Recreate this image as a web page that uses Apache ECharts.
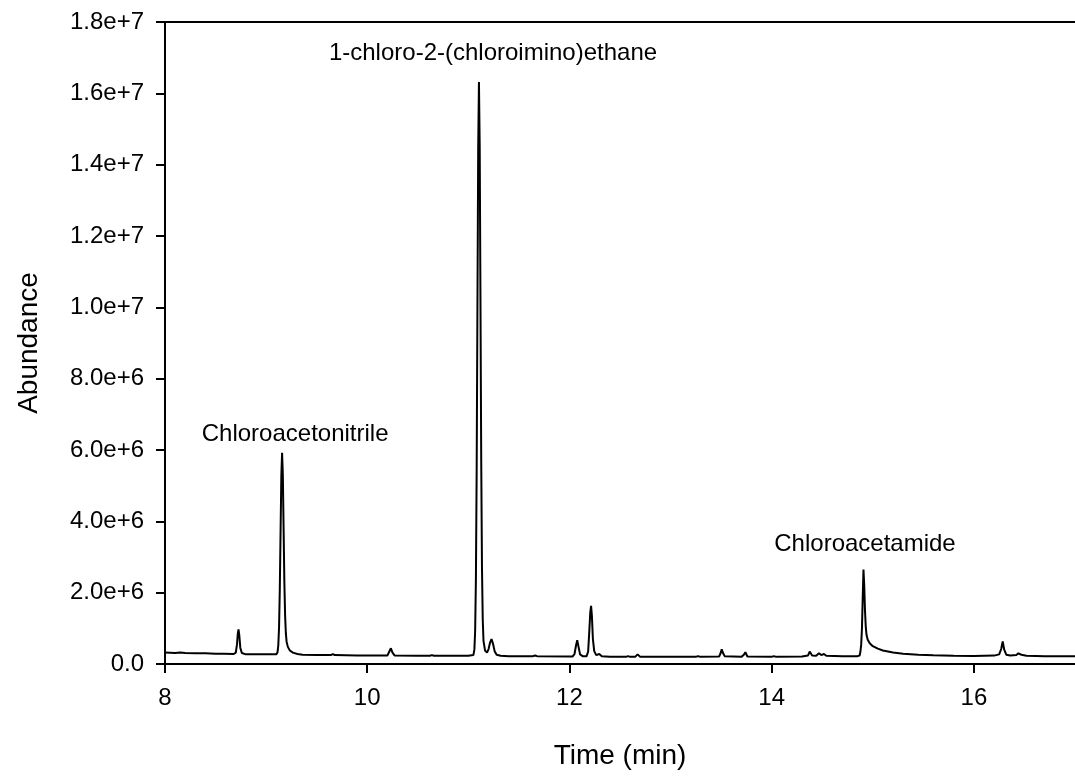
<!DOCTYPE html>
<html>
<head>
<meta charset="utf-8">
<title>Chromatogram</title>
<script src="https://cdn.jsdelivr.net/npm/echarts@6/dist/echarts.min.js"></script>
<style>
  html, body { margin: 0; padding: 0; background: #fff; }
  #chart { width: 1075px; height: 776px; }
</style>
</head>
<body>
<div id="chart"></div>
<script>
// Retention time (min) of each sampled point of the trace
const times = [
  8.00, 8.10, 8.15, 8.20, 8.30, 8.40, 8.50, 8.55, 8.565, 8.58, 8.68,
  8.70, 8.712, 8.72, 8.727, 8.735, 8.745, 8.76, 8.80, 9.00, 9.10,
  9.113, 9.1205, 9.128, 9.1355, 9.143, 9.1505, 9.158, 9.1655, 9.173, 9.1805,
  9.188, 9.1955, 9.203, 9.215, 9.235, 9.265, 9.31, 9.36, 9.50, 9.64,
  9.66, 9.68, 9.90, 10.00, 10.20, 10.215, 10.234, 10.25, 10.27, 10.50,
  10.62, 10.64, 10.66, 10.90, 11.00, 11.05, 11.06, 11.0675, 11.075, 11.0825,
  11.09, 11.0975, 11.105, 11.1125, 11.12, 11.1275, 11.135, 11.1425, 11.15, 11.165,
  11.185, 11.20, 11.215, 11.229, 11.243, 11.26, 11.28, 11.32, 11.40, 11.64,
  11.66, 11.68, 12.00, 12.03, 12.05, 12.065, 12.077, 12.09, 12.105, 12.13,
  12.17, 12.185, 12.197, 12.206, 12.214, 12.222, 12.232, 12.245, 12.265, 12.28,
  12.295, 12.32, 12.40, 12.56, 12.58, 12.60, 12.65, 12.674, 12.70, 13.00,
  13.25, 13.27, 13.30, 13.48, 13.495, 13.506, 13.52, 13.535, 13.70, 13.725,
  13.74, 13.76, 14.00, 14.02, 14.05, 14.30, 14.36, 14.376, 14.40, 14.44,
  14.468, 14.49, 14.517, 14.54, 14.70, 14.85, 14.87, 14.878, 14.8855, 14.893,
  14.9005, 14.908, 14.9155, 14.923, 14.9305, 14.938, 14.95, 14.97, 15.00, 15.05,
  15.10, 15.20, 15.30, 15.45, 15.60, 15.80, 16.00, 16.20, 16.25, 16.27,
  16.285, 16.30, 16.32, 16.36, 16.42, 16.44, 16.454, 16.47, 16.52, 16.70,
  17.00
];

// Detector abundance at each retention time
const abundance = [
  3.2e5, 3.1e5, 3.2e5, 3.1e5, 3.0e5, 3.0e5, 2.9e5, 2.9e5, 3.3e5, 2.9e5, 2.8e5,
  3.2e5, 5.5e5, 8.5e5, 9.7e5, 8.0e5, 4.5e5, 3.1e5, 2.7e5, 2.7e5, 2.7e5,
  3.3e5, 5.2e5, 1.03e6, 2.11e6, 3.70e6, 5.26e6, 5.92e6, 5.30e6, 3.80e6, 2.30e6,
  1.35e6, 8.5e5, 6.2e5, 4.8e5, 3.8e5, 3.2e5, 2.8e5, 2.6e5, 2.5e5, 2.5e5,
  2.8e5, 2.5e5, 2.4e5, 2.4e5, 2.4e5, 3.3e5, 4.4e5, 3.2e5, 2.4e5, 2.3e5,
  2.3e5, 2.5e5, 2.3e5, 2.3e5, 2.3e5, 2.5e5, 4.1e5, 9.4e5, 2.40e6, 5.46e6,
  1.00e7, 1.443e7, 1.632e7, 1.45e7, 1.02e7, 5.70e6, 2.70e6, 1.25e6, 6.5e5, 3.8e5,
  3.2e5, 4.2e5, 6.0e5, 7.0e5, 5.8e5, 3.6e5, 2.6e5, 2.3e5, 2.2e5, 2.2e5,
  2.4e5, 2.2e5, 2.1e5, 2.1e5, 2.8e5, 5.2e5, 6.7e5, 4.8e5, 2.7e5, 2.2e5,
  2.2e5, 3.5e5, 9.5e5, 1.45e6, 1.63e6, 1.35e6, 7.0e5, 3.6e5, 2.5e5, 2.4e5,
  2.8e5, 2.2e5, 2.0e5, 2.0e5, 2.2e5, 2.0e5, 2.0e5, 2.7e5, 2.0e5, 2.0e5,
  2.0e5, 2.2e5, 2.0e5, 2.1e5, 3.0e5, 4.1e5, 3.0e5, 2.2e5, 2.0e5, 2.6e5,
  3.3e5, 2.1e5, 2.0e5, 2.2e5, 2.0e5, 2.1e5, 2.4e5, 3.5e5, 2.4e5, 2.3e5,
  3.0e5, 2.5e5, 2.8e5, 2.3e5, 2.2e5, 2.2e5, 2.4e5, 3.5e5, 5.5e5, 1.00e6,
  1.85e6, 2.65e6, 2.20e6, 1.50e6, 1.05e6, 8.2e5, 6.8e5, 5.8e5, 5.0e5, 4.3e5,
  3.8e5, 3.2e5, 2.9e5, 2.6e5, 2.45e5, 2.3e5, 2.25e5, 2.35e5, 2.7e5, 4.2e5,
  6.3e5, 4.0e5, 2.6e5, 2.4e5, 2.5e5, 3.0e5, 3.2e5, 2.6e5, 2.3e5, 2.2e5,
  2.15e5
];

// Compound names with the (time, abundance) position of each label
const peakNames = ['Chloroacetonitrile', '1-chloro-2-(chloroimino)ethane', 'Chloroacetamide'];
const peakLabelTimes = [9.287, 11.244, 14.923];
const peakLabelLevels = [6.45e6, 1.713e7, 3.34e6];

// Axis tick settings
const xTicks = { min: 8, max: 17, interval: 2 };
const yTicks = { min: 0, max: 1.8e7, interval: 2e6 };

const FONT = '"Liberation Sans", Arial, Helvetica, sans-serif';
const INK = '#000';

const trace = times.map((t, i) => [t, abundance[i]]);

// Peak names are attached to the trace as mark points placed in data coordinates
const peakMarks = peakNames.map((n, i) => ({
  name: n,
  coord: [peakLabelTimes[i], peakLabelLevels[i]]
}));

const chart = echarts.init(document.getElementById('chart'), null, { renderer: 'canvas' });

chart.setOption({
  animation: false,
  backgroundColor: '#fff',
  grid: { left: 165, right: -10, top: 22, bottom: 112, containLabel: false },
  xAxis: [
    {
      type: 'value',
      position: 'bottom',
      min: xTicks.min,
      max: xTicks.max,
      interval: xTicks.interval,
      name: 'Time (min)',
      nameLocation: 'middle',
      nameGap: 78,
      nameTextStyle: { fontFamily: FONT, fontSize: 28, color: INK },
      axisLine: { show: true, onZero: false, lineStyle: { color: INK, width: 2 } },
      axisTick: { show: true, inside: false, length: 9, lineStyle: { color: INK, width: 2 } },
      axisLabel: {
        fontFamily: FONT, fontSize: 24, color: INK, margin: 22,
        showMaxLabel: false,
        formatter: v => (v % 2 === 0 ? String(v) : '')
      },
      splitLine: { show: false }
    },
    {
      type: 'value',
      position: 'top',
      min: xTicks.min,
      max: xTicks.max,
      axisLine: { show: true, onZero: false, lineStyle: { color: INK, width: 2 } },
      axisTick: { show: false },
      axisLabel: { show: false },
      splitLine: { show: false }
    }
  ],
  yAxis: {
    type: 'value',
    min: yTicks.min,
    max: yTicks.max,
    interval: yTicks.interval,
    name: 'Abundance',
    nameLocation: 'middle',
    nameGap: 122,
    nameTextStyle: { fontFamily: FONT, fontSize: 28, color: INK },
    axisLine: { show: true, onZero: false, lineStyle: { color: INK, width: 2 } },
    axisTick: { show: true, inside: false, length: 9, lineStyle: { color: INK, width: 2 } },
    axisLabel: {
      fontFamily: FONT, fontSize: 24, color: INK, margin: 21,
      formatter: v => (v === 0 ? '0.0' : v.toExponential(1))
    },
    splitLine: { show: false }
  },
  series: [
    {
      type: 'line',
      xAxisIndex: 0,
      data: trace,
      showSymbol: false,
      symbol: 'none',
      smooth: false,
      lineStyle: { color: INK, width: 2 },
      emphasis: { disabled: true },
      z: 3,
      markPoint: {
        silent: true,
        symbol: 'circle',
        symbolSize: 0,
        itemStyle: { color: INK, opacity: 1 },
        label: {
          show: true,
          position: 'inside',
          formatter: p => p.name,
          fontFamily: FONT,
          fontSize: 24,
          color: INK,
          opacity: 1,
          textBorderWidth: 0
        },
        data: peakMarks
      }
    }
  ]
});
</script>
</body>
</html>
